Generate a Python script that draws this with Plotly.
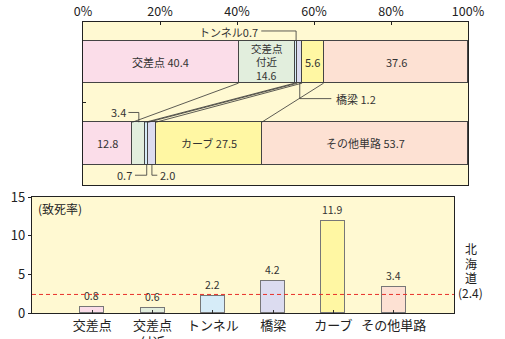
import plotly.graph_objects as go

# Road-type shares (%) for accidents and deaths
road_types = ["交差点", "交差点付近", "トンネル", "橋梁", "カーブ", "その他単路"]
accident_share = [40.4, 14.6, 0.7, 1.2, 5.6, 37.6]
death_share = [12.8, 3.4, 0.7, 2.0, 27.5, 53.7]
row_labels = ["発生件数<br>6,209", "死者数<br>149"]

# Fatality rate by road type
fatality_rate = [0.8, 0.6, 2.2, 4.2, 11.9, 3.4]
fatality_ticks = ["交差点", "交差点<br>付近", "トンネル", "橋梁", "カーブ", "その他単路"]
hokkaido_rate = 2.4
hokkaido_label = ["北", "海", "道", f"({hokkaido_rate})"]

pct_ticks = [0, 20, 40, 60, 80, 100]

colors = ["#fbdde9", "#e2eedd", "#d6ecf8", "#dcdcf0", "#fff7a3", "#fde1d3"]
bg = "#fff9d2"
font_family = "Noto Sans CJK JP, sans-serif"

fig = go.Figure()

Y_ACC, Y_DEATH, BAR_W = 1.0, 0.0, 0.52

# Stacked horizontal bars
for i, name in enumerate(road_types):
    fig.add_trace(go.Bar(
        x=[accident_share[i], death_share[i]], y=[Y_ACC, Y_DEATH],
        orientation="h", width=BAR_W, name=name,
        marker=dict(color=colors[i], line=dict(color="#444", width=1)),
        xaxis="x", yaxis="y", showlegend=False, hoverinfo="skip",
    ))

# Fatality-rate bars
fig.add_trace(go.Bar(
    x=fatality_ticks, y=fatality_rate, width=0.4,
    marker=dict(color=colors, line=dict(color="#777", width=1.5)),
    text=[f"{v:.1f}" for v in fatality_rate], textposition="outside",
    textfont=dict(size=10.5, color="#333"), cliponaxis=False,
    xaxis="x2", yaxis="y2", showlegend=False, hoverinfo="skip",
))

def cum(vals):
    out, s = [], 0.0
    for v in vals:
        out.append(s)
        s += v
    return out

acc_start = cum(accident_share)
death_start = cum(death_share)

# Connector lines between segment boundaries of the two stacked bars
shapes = []
for i in range(1, 5 + 1):
    shapes.append(dict(type="line", xref="x", yref="y",
                       x0=acc_start[i], y0=Y_ACC - BAR_W / 2,
                       x1=death_start[i], y1=Y_DEATH + BAR_W / 2,
                       line=dict(color="#333", width=0.8), layer="above"))

# Hokkaido average line
shapes.append(dict(type="line", xref="x2 domain", yref="y2",
                   x0=0, x1=1, y0=hokkaido_rate, y1=hokkaido_rate,
                   line=dict(color="#e8302a", width=1, dash="4px,3px")))

anns = []
lab_font = dict(size=11, color="#333", family=font_family)

def seg_center(starts, vals, i):
    return starts[i] + vals[i] / 2

# Labels inside the accident bar
for i, txt in [(0, f"交差点 {accident_share[0]}"),
               (4, f"{accident_share[4]}"),
               (5, f"{accident_share[5]}")]:
    anns.append(dict(x=seg_center(acc_start, accident_share, i), y=Y_ACC,
                     xref="x", yref="y", text=txt, showarrow=False,
                     font=lab_font))
# three-line label of the intersection-vicinity segment
for k, line in enumerate(["交差点", "付近", f"{accident_share[1]}"]):
    anns.append(dict(x=seg_center(acc_start, accident_share, 1), y=Y_ACC,
                     xref="x", yref="y", text=line, showarrow=False,
                     yshift=13.5 - 13.5 * k, borderpad=0,
                     font=dict(size=10.5, color="#333", family=font_family)))
# Labels inside the death bar
for i, txt in [(0, f"{death_share[0]}"),
               (4, f"カーブ {death_share[4]}"),
               (5, f"その他単路 {death_share[5]}")]:
    anns.append(dict(x=seg_center(death_start, death_share, i), y=Y_DEATH,
                     xref="x", yref="y", text=txt, showarrow=False,
                     font=lab_font))

# Callouts for the thin segments
def leader(points):
    for (xa, ya), (xb, yb) in zip(points[:-1], points[1:]):
        shapes.append(dict(type="line", xref="x", yref="y",
                           x0=xa, y0=ya, x1=xb, y1=yb,
                           line=dict(color="#333", width=0.8)))

top_edge_acc = Y_ACC + BAR_W / 2
bot_edge_acc = Y_ACC - BAR_W / 2
top_edge_d = Y_DEATH + BAR_W / 2
bot_edge_d = Y_DEATH - BAR_W / 2

# tunnel (accidents)
xt = seg_center(acc_start, accident_share, 2)
leader([(46.3, 1.38), (xt, 1.38), (xt, top_edge_acc)])
anns.append(dict(x=46.1, y=1.37, xref="x", yref="y", xanchor="right",
                 text=f"トンネル{accident_share[2]}", showarrow=False, font=lab_font))
# bridge (accidents)
xb = seg_center(acc_start, accident_share, 3)
leader([(xb, bot_edge_acc), (xb, 0.55), (64.5, 0.55)])
anns.append(dict(x=65.3, y=0.55, xref="x", yref="y", xanchor="left",
                 text=f"橋梁 {accident_share[3]}", showarrow=False, font=lab_font))
# intersection vicinity (deaths)
xg = seg_center(death_start, death_share, 1)
leader([(11.8, 0.38), (xg, 0.38), (xg, top_edge_d)])
anns.append(dict(x=11.6, y=0.38, xref="x", yref="y", xanchor="right",
                 text=f"{death_share[1]}", showarrow=False, font=lab_font))
# tunnel (deaths)
xtd = seg_center(death_start, death_share, 2)
leader([(xtd, bot_edge_d), (xtd, -0.39), (13.5, -0.39)])
anns.append(dict(x=13.2, y=-0.39, xref="x", yref="y", xanchor="right",
                 text=f"{death_share[2]}", showarrow=False, font=lab_font))
# bridge (deaths)
xbd = seg_center(death_start, death_share, 3)
leader([(xbd, bot_edge_d), (xbd, -0.39), (19.3, -0.39)])
anns.append(dict(x=19.6, y=-0.39, xref="x", yref="y", xanchor="left",
                 text=f"{death_share[3]}", showarrow=False, font=lab_font))

# Row labels
for txt, yv in zip(row_labels, [Y_ACC, Y_DEATH]):
    anns.append(dict(x=-1.8, y=yv, xref="x", yref="y", xanchor="right",
                     text=txt, showarrow=False, align="right",
                     font=dict(size=14, color="#222", family=font_family)))

# Fatality chart captions
anns.append(dict(x=0.01, y=0.99, xref="x2 domain", yref="y2 domain",
                 xanchor="left", yanchor="top", text="(致死率)",
                 showarrow=False, font=dict(size=12, color="#222", family=font_family)))
# vertical "北海道 (2.4)" label stacked one line at a time
n_lines = len(hokkaido_label)
for k, line in enumerate(hokkaido_label):
    anns.append(dict(x=1.04, y=hokkaido_rate, xref="x2 domain", yref="y2",
                     xanchor="center", yanchor="middle", borderpad=0,
                     yshift=(n_lines - 1 - k) * 14.5 + 2,
                     text=line, showarrow=False,
                     font=dict(size=12, color="#222", family=font_family)))

fig.update_layout(
    width=505, height=339,
    margin=dict(l=0, r=0, t=0, b=0, autoexpand=False),
    paper_bgcolor="white", plot_bgcolor=bg,
    barmode="stack", bargap=0,
    font=dict(family=font_family, color="#222"),
    shapes=shapes, annotations=anns,
    xaxis=dict(domain=[83 / 505, 468 / 505], range=[0, 100], side="top",
               tickvals=pct_ticks, ticktext=[f"{v}%" for v in pct_ticks],
               ticks="inside", ticklen=3, tickcolor="#222",
               showline=True, linecolor="#222", linewidth=1.2, mirror=True,
               showgrid=False, zeroline=False, anchor="y", automargin=False,
               tickfont=dict(size=12.5, color="#222")),
    yaxis=dict(domain=[1 - 185 / 339, 1 - 22 / 339], range=[-0.51, 1.49],
               tickvals=[0.5], showticklabels=False,
               ticks="inside", ticklen=3, tickcolor="#222",
               showline=True, linecolor="#222", linewidth=1.2, mirror=True,
               showgrid=False, zeroline=False, anchor="x", automargin=False),
    xaxis2=dict(domain=[32 / 505, 454 / 505], range=[-1, 6],
                type="category", categoryorder="array", categoryarray=fatality_ticks,
                ticks="inside", ticklen=3, tickcolor="#333",
                showline=True, linecolor="#222", linewidth=1.2, mirror=True,
                showgrid=False, anchor="y2", automargin=False,
                tickfont=dict(size=13, color="#222")),
    yaxis2=dict(domain=[1 - 313 / 339, 1 - 197 / 339], range=[0, 15],
                tickvals=[0, 5, 10, 15], ticks="outside", ticklen=3,
                tickcolor="#222",
                showline=True, linecolor="#222", linewidth=1.2, mirror=True,
                showgrid=False, zeroline=False, anchor="x2", automargin=False,
                tickfont=dict(size=13, color="#222")),
)

fig.write_html("out.html")
